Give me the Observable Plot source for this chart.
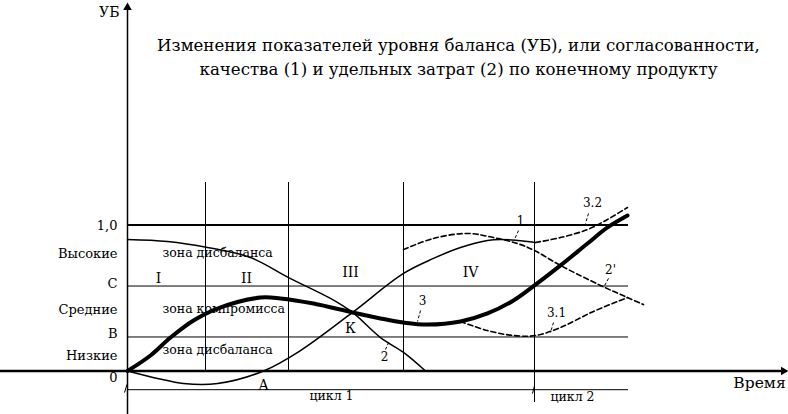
<!DOCTYPE html>
<html>
<head>
<meta charset="utf-8">
<script src="https://cdn.jsdelivr.net/npm/d3@7"></script>
<script src="https://cdn.jsdelivr.net/npm/@observablehq/plot@0.6"></script>
<style>
  html, body { margin: 0; padding: 0; background: #fff; }
</style>
</head>
<body>
<div id="chart"></div>
<script>
// ---- Data (time units t, balance level УБ) ----
const titleLines = [
  "Изменения показателей уровня баланса (УБ), или согласованности,",
  "качества (1) и удельных затрат (2) по конечному продукту"
];
const gridLevels = [1.0, 0.582, 0.233];           // 1,0 ; С ; В
const levelLabels = ["1,0", "Высокие", "С", "Средние", "В", "Низкие", "0"];
const levelLabelY = [0.997, 0.805, 0.60, 0.421, 0.255, 0.107, -0.045];
const zoneBounds = [0.78, 1.61, 2.76, 4.07];
const zoneTop = 1.291;
const cycleEnd = 5.01;
const romanLabels = ["I", "II", "III", "IV"];
const romanX = [0.31, 1.19, 2.23, 3.43];
const romanY = [0.634, 0.634, 0.675, 0.675];
const zoneLabels = ["зона дисбаланса", "зона компромисса", "зона дисбаланса"];
const zoneLabelY = [0.805, 0.428, 0.147];

// curve 1 – quality
const c1T = [0, 0.30, 0.56, 0.90, 1.36, 1.73, 2.25, 2.76, 3.06, 3.33, 3.60, 3.73, 3.90, 4.08];
const c1V = [0, -0.051, -0.086, -0.086, 0, 0.140, 0.401, 0.668, 0.771, 0.846, 0.894, 0.901, 0.894, 0.880];
// curve 2 – specific costs
const c2T = [0, 0.40, 0.80, 1.23, 1.61, 2.03, 2.25, 2.53, 2.76, 2.98];
const c2V = [0.901, 0.887, 0.846, 0.777, 0.640, 0.497, 0.401, 0.229, 0.127, 0];
// curve 3 – balance level
const c3T = [0, 0.23, 0.43, 0.66, 0.90, 1.33, 1.53, 1.86, 2.25, 2.53, 2.76, 3.00, 3.33, 3.60, 3.86, 4.07, 4.33, 4.60, 4.80, 5.00];
const c3V = [0, 0.106, 0.229, 0.346, 0.428, 0.503, 0.497, 0.462, 0.401, 0.360, 0.332, 0.318, 0.339, 0.394, 0.483, 0.586, 0.723, 0.873, 0.983, 1.065];
// dashed 2'
const c2pT = [2.76, 3.06, 3.40, 3.66, 3.90, 4.07, 4.33, 4.73, 5.00, 5.16];
const c2pV = [0.832, 0.908, 0.942, 0.914, 0.873, 0.825, 0.723, 0.586, 0.503, 0.455];
// dashed 3.2
const c32T = [4.08, 4.33, 4.60, 4.80, 5.00];
const c32V = [0.880, 0.914, 0.969, 1.038, 1.120];
// dashed 3.1
const c31T = [3.33, 3.60, 3.86, 4.08, 4.33, 4.66, 5.00];
const c31V = [0.339, 0.277, 0.243, 0.243, 0.298, 0.408, 0.503];

// curve number labels and their leaders
const curveLabels = ["1", "2", "3", "3.2", "2'", "3.1"];
const curveLabelX = [3.93, 2.57, 2.95, 4.65, 4.83, 4.29];
const curveLabelY = [1.024, 0.092, 0.476, 1.147, 0.688, 0.394];
const leadX1 = [3.91, 2.58, 2.93, 4.61, 4.81, 4.26];
const leadY1 = [0.962, 0.147, 0.414, 1.079, 0.634, 0.332];
const leadX2 = [3.87, 2.62, 2.90, 4.58, 4.76, 4.23];
const leadY2 = [0.901, 0.209, 0.339, 1.010, 0.572, 0.264];

const pointLabels = ["К", "А"];
const pointLabelX = [2.23, 1.36];
const pointLabelY = [0.291, -0.099];
const cycleLabels = ["цикл 1", "цикл 2"];
const cycleLabelX = [2.04, 4.45];
const cycleLabelY = [-0.172, -0.175];

// ---- helpers ----
const pts = (T, V) => T.map((t, i) => ({t, v: V[i]}));
const FONT = "DejaVu Serif";
const yMin = (370.5 - 414) / 146, yMax = 370.5 / 146;
const txt = (o) => ({fill: "black", fontFamily: FONT, ...o});

const chart = Plot.plot({
  width: 788,
  height: 414,
  margin: 0,
  x: {type: "linear", domain: [-1.27, 6.61], range: [0, 788], axis: null},
  y: {type: "linear", domain: [yMin, yMax], range: [414, 0], axis: null},
  style: {fontFamily: FONT, background: "white", color: "black"},
  marks: [
    // grid levels
    Plot.ruleY(gridLevels, {y: d => d, x1: 0, x2: cycleEnd, stroke: "black",
      strokeWidth: (d, i) => i === 0 ? 2 : 1}),
    // zone bounds
    Plot.ruleX(zoneBounds, {x: d => d, y1: (d, i) => i === 3 ? -0.216 : 0, y2: zoneTop, stroke: "black", strokeWidth: 1}),
    // cycle line
    Plot.ruleY([-0.128], {x1: 0, x2: cycleEnd, stroke: "black", strokeWidth: 1}),
    // axes
    Plot.ruleY([0], {x1: -1.27, x2: 6.56, stroke: "black", strokeWidth: 2.5}),
    Plot.ruleX([0], {y1: yMin, y2: 2.49, stroke: "black", strokeWidth: 1.5}),
    Plot.dot([{t: 6.56, v: 0}], {x: "t", y: "v", symbol: "triangle", r: 3.2, rotate: 90, fill: "black", stroke: "none"}),
    Plot.dot([{t: 0, v: 2.49}], {x: "t", y: "v", symbol: "triangle", r: 3.2, fill: "black", stroke: "none"}),
    // slanted ticks
    Plot.link([{x1: -0.03, y1: -0.148, x2: -0.005, y2: -0.092}, {x1: 4.05, y1: -0.155, x2: 4.07, y2: -0.100}],
      {x1: "x1", y1: "y1", x2: "x2", y2: "y2", stroke: "black", strokeWidth: 1}),
    // curves
    Plot.line(pts(c2T, c2V), {x: "t", y: "v", curve: "catmull-rom", stroke: "black", strokeWidth: 1.5}),
    Plot.line(pts(c1T, c1V), {x: "t", y: "v", curve: "catmull-rom", stroke: "black", strokeWidth: 1.5}),
    Plot.line(pts(c2pT, c2pV), {x: "t", y: "v", curve: "catmull-rom", stroke: "black", strokeWidth: 1.6, strokeDasharray: "5,3"}),
    Plot.line(pts(c32T, c32V), {x: "t", y: "v", curve: "catmull-rom", stroke: "black", strokeWidth: 1.6, strokeDasharray: "5,3"}),
    Plot.line(pts(c31T, c31V), {x: "t", y: "v", curve: "catmull-rom", stroke: "black", strokeWidth: 1.6, strokeDasharray: "5,3"}),
    Plot.line(pts(c3T, c3V), {x: "t", y: "v", curve: "catmull-rom", stroke: "black", strokeWidth: 4}),
    // leaders
    Plot.link(curveLabels, {x1: (d, i) => leadX1[i], y1: (d, i) => leadY1[i], x2: (d, i) => leadX2[i], y2: (d, i) => leadY2[i],
      stroke: "black", strokeWidth: 1, strokeDasharray: "3,2"}),
    // texts
    Plot.text(titleLines, txt({x: 3.31, y: (d, i) => i === 0 ? 2.229 : 2.062, text: d => d, fontSize: 16.6})),
    Plot.text(["УБ"], txt({x: -0.08, y: 2.455, text: d => d, fontSize: 14, textAnchor: "end"})),
    Plot.text(levelLabels, txt({x: -0.10, y: (d, i) => levelLabelY[i], text: d => d, fontSize: 13, textAnchor: "end"})),
    Plot.text(romanLabels, txt({x: (d, i) => romanX[i], y: (d, i) => romanY[i], text: d => d, fontSize: 14})),
    Plot.text(zoneLabels, txt({x: 0.35, y: (d, i) => zoneLabelY[i], text: d => d, fontSize: 12.5, textAnchor: "start"})),
    Plot.text(curveLabels, txt({x: (d, i) => curveLabelX[i], y: (d, i) => curveLabelY[i], text: d => d, fontSize: 12})),
    Plot.text(pointLabels, txt({x: (d, i) => pointLabelX[i], y: (d, i) => pointLabelY[i], text: d => d, fontSize: 14})),
    Plot.text(cycleLabels, txt({x: (d, i) => cycleLabelX[i], y: (d, i) => cycleLabelY[i], text: d => d, fontSize: 12.5})),
    Plot.text(["Время"], txt({x: 6.32, y: -0.079, text: d => d, fontSize: 15.5}))
  ]
});
document.getElementById("chart").appendChild(chart);
</script>
</body>
</html>
